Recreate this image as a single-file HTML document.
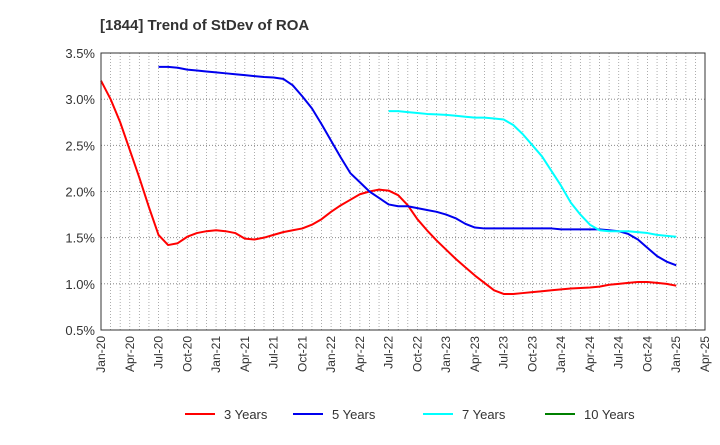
<!DOCTYPE html>
<html><head><meta charset="utf-8"><style>body{margin:0;background:#fff}svg{font-family:"Liberation Sans",sans-serif}</style></head>
<body>
<svg width="720" height="440">
<text x="100" y="30" font-size="15" font-weight="bold" fill="#333">[1844]  Trend of StDev of ROA</text>
<g id="grid"></g><g id="series"></g><g id="axes"></g>
<g id="legend"></g>
</svg>
<script>
const yTicks=[0.5,1.0,1.5,2.0,2.5,3.0,3.5];
const xLabels=["Jan-20","Apr-20","Jul-20","Oct-20","Jan-21","Apr-21","Jul-21","Oct-21","Jan-22","Apr-22","Jul-22","Oct-22","Jan-23","Apr-23","Jul-23","Oct-23","Jan-24","Apr-24","Jul-24","Oct-24","Jan-25","Apr-25"];
const s3Start=0;
const s3=[3.2,3.0,2.75,2.45,2.15,1.83,1.53,1.42,1.44,1.51,1.55,1.57,1.58,1.57,1.55,1.49,1.48,1.50,1.53,1.56,1.58,1.60,1.64,1.70,1.78,1.85,1.91,1.97,2.00,2.02,2.01,1.96,1.85,1.70,1.58,1.47,1.37,1.27,1.18,1.09,1.01,0.93,0.89,0.89,0.90,0.91,0.92,0.93,0.94,0.95,0.955,0.96,0.97,0.99,1.00,1.01,1.02,1.02,1.01,1.00,0.98];
const s5Start=6;
const s5=[3.35,3.35,3.34,3.32,3.31,3.30,3.29,3.28,3.27,3.26,3.25,3.24,3.235,3.22,3.15,3.03,2.90,2.73,2.55,2.37,2.20,2.10,2.00,1.93,1.86,1.84,1.84,1.82,1.80,1.78,1.75,1.71,1.65,1.61,1.60,1.60,1.60,1.60,1.60,1.60,1.60,1.60,1.59,1.59,1.59,1.59,1.59,1.58,1.57,1.54,1.48,1.39,1.30,1.24,1.20];
const s7Start=30;
const s7=[2.87,2.87,2.86,2.85,2.84,2.835,2.83,2.82,2.81,2.80,2.80,2.79,2.78,2.72,2.62,2.50,2.38,2.22,2.06,1.88,1.75,1.64,1.58,1.57,1.57,1.57,1.56,1.55,1.53,1.52,1.51];
const s10Start=0;
const s10=[];
const L=101,R=705,T=53,B=330,NM=63;
const X=m=>L+(R-L)*m/NM;
const Y=v=>B-(v-0.5)/3.0*(B-T);
const ns="http://www.w3.org/2000/svg";
function mk(t,a,p){const e=document.createElementNS(ns,t);for(const k in a)e.setAttribute(k,a[k]);p.appendChild(e);return e;}
const grid=document.getElementById('grid'),axes=document.getElementById('axes'),ser=document.getElementById('series'),leg=document.getElementById('legend');
for(let m=1;m<NM;m++){const l=mk('line',{x1:X(m),x2:X(m),y1:T,y2:B,stroke:'#999','stroke-width':0.8,'stroke-dasharray':'1,2'},grid);

}
yTicks.forEach(v=>{const l=mk('line',{x1:L,x2:R,y1:Y(v),y2:Y(v),stroke:'#777','stroke-width':0.8,'stroke-dasharray':'1,2'},grid);


const t=mk('text',{x:L-6,y:Y(v)+5,'text-anchor':'end','font-size':13,fill:'#333'},axes);t.textContent=v.toFixed(1)+'%';

});
xLabels.forEach((s,i)=>{const x=X(i*3);const t=mk('text',{transform:`translate(${x+4},${B+6}) rotate(-90)`,'text-anchor':'end','font-size':12,fill:'#333'},axes);t.textContent=s;

});
const fr=mk('rect',{x:L,y:T,width:R-L,height:B-T,fill:'none',stroke:'#333','stroke-width':1},axes);


function line(arr,start,col,name){if(!arr.length)return;const p=mk('polyline',{points:arr.map((v,i)=>X(start+i)+','+Y(v)).join(' '),fill:'none',stroke:col,'stroke-width':2,'stroke-linejoin':'round'},ser);

}
line(s3,s3Start,'#ff0000','line-3-years');
line(s5,s5Start,'#0000ee','line-5-years');
line(s7,s7Start,'#00ffff','line-7-years');
line(s10,s10Start,'#008000','line-10-years');
const legItems=[["3 Years","#ff0000",185],["5 Years","#0000ee",293],["7 Years","#00ffff",423],["10 Years","#008000",545]];
legItems.forEach(([n,c,x])=>{const g=mk('g',{},leg);


mk('line',{x1:x,x2:x+30,y1:414,y2:414,stroke:c,'stroke-width':2},g);
const t=mk('text',{x:x+39,y:419,'font-size':13,fill:'#333'},g);t.textContent=n;});
</script>
</body></html>
